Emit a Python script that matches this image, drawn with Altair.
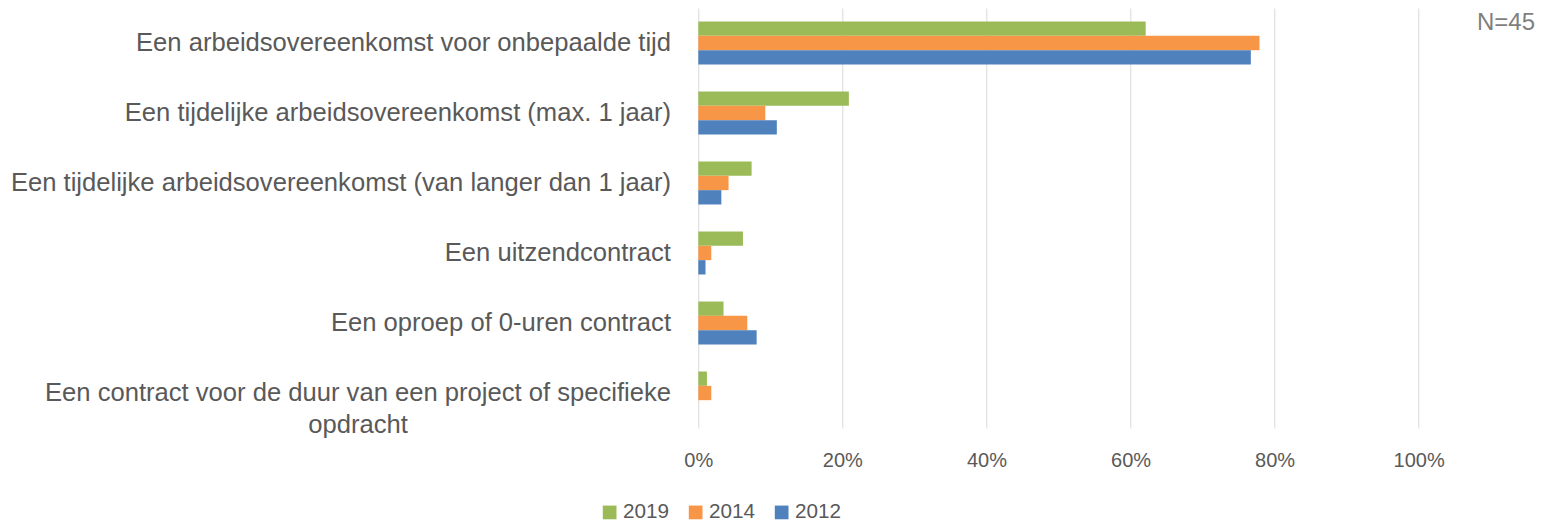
import altair as alt
import pandas as pd

categories = [
    "Een arbeidsovereenkomst voor onbepaalde tijd",
    "Een tijdelijke arbeidsovereenkomst (max. 1 jaar)",
    "Een tijdelijke arbeidsovereenkomst (van langer dan 1 jaar)",
    "Een uitzendcontract",
    "Een oproep of 0-uren contract",
    "Een contract voor de duur van een project of specifieke opdracht",
]
years = ["2019", "2014", "2012"]
v2019 = [62.1, 20.9, 7.4, 6.2, 3.5, 1.2]
v2014 = [77.9, 9.3, 4.2, 1.8, 6.8, 1.8]
v2012 = [76.7, 10.9, 3.2, 1.0, 8.1, 0.0]
x_ticks = [0, 0.2, 0.4, 0.6, 0.8, 1.0]
note_text = ["N=45"]

colors = ["#9BBB59", "#F79646", "#4F81BD"]
FONT = "Liberation Sans"
TXT = "#595959"

rows = []
for i, c in enumerate(categories):
    for y, vals in zip(years, [v2019, v2014, v2012]):
        rows.append({"cat": c, "year": y, "value": vals[i] / 100})
df = pd.DataFrame(rows)

long_label = categories[5]
pad = "\u00a0" * 37 + "\u200b"
label_expr = (
    f"datum.value == '{long_label}' ? "
    f"['Een contract voor de duur van een project of specifieke', 'opdracht{pad}'] : datum.value"
)

bars = alt.Chart(df).mark_bar().encode(
    x=alt.X(
        "value:Q",
        scale=alt.Scale(domain=[0, 1], nice=False),
        axis=alt.Axis(
            values=x_ticks, format=".0%", title=None, grid=True, gridColor="#d9d9d9",
            gridWidth=1, ticks=False, domain=False, labelPadding=22, labelFont=FONT,
            labelFontSize=20, labelColor=TXT, labelFlush=False,
        ),
    ),
    y=alt.Y(
        "cat:N",
        sort=categories,
        scale=alt.Scale(paddingInner=0.386, paddingOuter=0.193),
        axis=alt.Axis(
            title=None, ticks=False, domain=False, grid=False, labelPadding=27.8,
            labelFont=FONT, labelFontSize=25.6, labelColor=TXT, labelLimit=800,
            labelLineHeight=32, labelExpr=label_expr,
        ),
    ),
    yOffset=alt.YOffset("year:N", sort=years, scale=alt.Scale(paddingInner=0, paddingOuter=0)),
    color=alt.Color(
        "year:N",
        sort=years,
        scale=alt.Scale(domain=years, range=colors),
        legend=alt.Legend(
            title=None, orient="none", direction="horizontal", legendX=-99, legendY=493.6,
            symbolType="square", symbolSize=188, symbolStrokeWidth=0, labelFont=FONT,
            labelFontSize=20.7, labelColor=TXT, labelOffset=3, columnPadding=16, padding=0,
        ),
    ),
)

note = alt.Chart(pd.DataFrame({"t": note_text})).mark_text(
    align="right", baseline="middle", font=FONT, fontSize=24, color="#7f7f7f"
).encode(text="t:N", x=alt.value(836.7), y=alt.value(15))

chart = alt.layer(bars, note).properties(
    width=720.4,
    height=420,
    padding={"left": 690.3, "top": 0, "right": 125.3, "bottom": 96},
    autosize=alt.AutoSizeParams(type="none"),
).configure_view(stroke=None)

chart.save("out.html", embed_options={"renderer": "svg", "actions": False})
